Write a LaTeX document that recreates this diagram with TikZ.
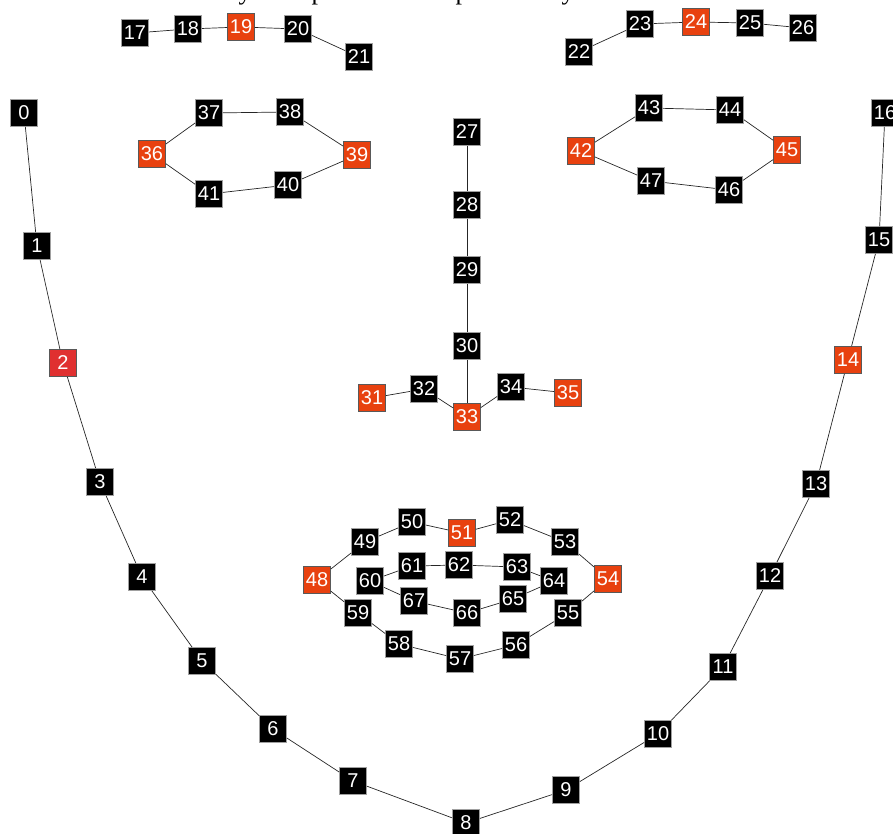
\documentclass[tikz,border=0pt]{standalone}
\usepackage{fontspec}
\setmainfont{Liberation Serif}
\newfontfamily\lmkfont{Liberation Sans}
\usetikzlibrary{positioning}
\definecolor{lmkorange}{HTML}{E8410F}
\definecolor{lmkred}{HTML}{E03030}
\definecolor{lmkedge}{HTML}{A0A0A0}

\begin{document}
\begin{tikzpicture}[x=1pt, y=-1pt,
  ptbox/.style={rectangle, fill=black, draw=lmkedge, line width=0.8pt, minimum size=27pt, inner sep=0pt, text=white, font=\lmkfont\fontsize{20}{20}\selectfont},
  ptkey/.style={ptbox, fill=lmkorange, draw=black!65},
  ptred/.style={ptbox, fill=lmkred, draw=black!65},
  facelink/.style={line width=0.7pt, draw=black!85},
  captxt/.style={anchor=base, inner sep=0pt, font=\fontsize{26}{26}\selectfont},
]
\useasboundingbox (0,0) rectangle (893,834);
\clip (0,0) rectangle (893,834);
% tail of the caption line above (cut off)
\foreach \c/\x in {y/245,p/318,p/462,y/568}
  \node[captxt] at (\x,0) {\c};

% jaw line
\foreach \n/\x/\y/\s in {%
  0/24/113/ptbox, 1/37/246/ptbox, 2/63/363/ptred, 3/100/482/ptbox,
  4/142/577/ptbox, 5/202/661/ptbox, 6/273/729/ptbox, 7/353/781/ptbox,
  8/466/823/ptbox, 9/566/790/ptbox, 10/658/734/ptbox, 11/723/667/ptbox,
  12/770/576/ptbox, 13/816/484/ptbox, 14/848/360/ptkey, 15/879/240/ptbox,
  16/885/113/ptbox%
} \node[\s] (n\n) at (\x,\y) {\n};
% brows
\foreach \n/\x/\y/\s in {%
  17/135/33/ptbox, 18/188/29/ptbox, 19/241/27/ptkey, 20/298/29/ptbox, 21/359/57/ptbox,
  22/579/52/ptbox, 23/640/24/ptbox, 24/696/22/ptkey, 25/750/23/ptbox, 26/803/28/ptbox%
} \node[\s] (n\n) at (\x,\y) {\n};
% nose
\foreach \n/\x/\y/\s in {%
  27/467/132/ptbox, 28/467/205/ptbox, 29/467/270/ptbox, 30/467/346/ptbox,
  31/372/398/ptkey, 32/424/389/ptbox, 33/467/417/ptkey, 34/511/387/ptbox, 35/568/393/ptkey%
} \node[\s] (n\n) at (\x,\y) {\n};
% eyes
\foreach \n/\x/\y/\s in {%
  36/152/154/ptkey, 37/209/113/ptbox, 38/290/112/ptbox, 39/357/155/ptkey, 40/288/185/ptbox, 41/209/194/ptbox,
  42/581/151/ptkey, 43/649/108/ptbox, 44/730/110/ptbox, 45/787/150/ptkey, 46/729/190/ptbox, 47/651/181/ptbox%
} \node[\s] (n\n) at (\x,\y) {\n};
% mouth
\foreach \n/\x/\y/\s in {%
  48/317/580/ptkey, 49/365/542/ptbox, 50/412/522/ptbox, 51/462/533/ptkey, 52/510/520/ptbox, 53/565/542/ptbox,
  54/608/579/ptkey, 55/568/613/ptbox, 56/516/645/ptbox, 57/460/659/ptbox, 58/399/644/ptbox, 59/358/613/ptbox,
  60/370/581/ptbox, 61/412/566/ptbox, 62/459/565/ptbox, 63/517/567/ptbox,
  64/554/581/ptbox, 65/513/599/ptbox, 66/467/613/ptbox, 67/414/601/ptbox%
} \node[\s] (n\n) at (\x,\y) {\n};

% open chains
\foreach \s/\e in {0/16,17/21,22/26,27/30,31/35,36/41,42/47,48/59,60/67} {
  \pgfmathtruncatemacro{\last}{\e-1}
  \foreach \i in {\s,...,\last} {
    \pgfmathtruncatemacro{\j}{\i+1}
    \draw[facelink] (n\i) -- (n\j);
  }
}
% closing links
\foreach \a/\b in {30/33,41/36,47/42,59/48,67/60}
  \draw[facelink] (n\a) -- (n\b);
\end{tikzpicture}
\end{document}
